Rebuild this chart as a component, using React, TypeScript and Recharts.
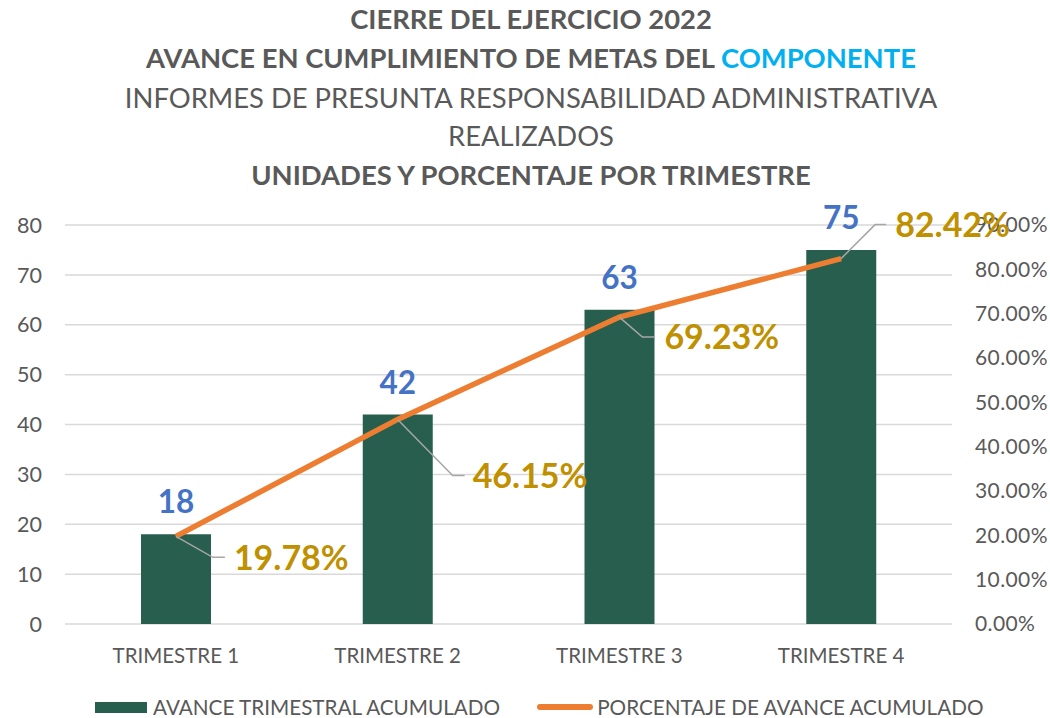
import React from "react";
import {
  ComposedChart,
  Bar,
  Line,
  XAxis,
  YAxis,
  CartesianGrid,
  LabelList,
} from "recharts";

const trimestres = ["TRIMESTRE 1", "TRIMESTRE 2", "TRIMESTRE 3", "TRIMESTRE 4"];
const avanceTrimestral = [18, 42, 63, 75];
const porcentajeAvance = [19.78, 46.15, 69.23, 82.42];
const unidadesTicks = [0, 10, 20, 30, 40, 50, 60, 70, 80];
const porcentajeTicks = [0, 10, 20, 30, 40, 50, 60, 70, 80, 90];

const data = trimestres.map((t, i) => ({
  name: t,
  avance: avanceTrimestral[i],
  porcentaje: porcentajeAvance[i],
}));

// where each percent label sits relative to its point: elbow, line end, text start
const leaders = [
  { ex: 37, ey: 21, end: 49, tx: 58 },
  { ex: 55, ey: 56, end: 67, tx: 75 },
  { ex: 23, ey: 20, end: 35, tx: 45 },
  { ex: 34, ey: -34, end: 45, tx: 54 },
];

const FONT = "Lato, 'Open Sans', sans-serif";
const GRAY = "#595959";

const PercentLabel = (props: any) => {
  const { x, y, index, value } = props;
  const l = leaders[index];
  if (!l) return null;
  return (
    <g>
      <polyline
        points={`${x},${y} ${x + l.ex},${y + l.ey} ${x + l.end},${y + l.ey}`}
        fill="none"
        stroke="#A6A6A6"
        strokeWidth={1.5}
      />
      <text
        x={x + l.tx}
        y={y + l.ey}
        dy="0.36em"
        fill="#BF9000"
        fontFamily={FONT}
        fontWeight={700}
        fontSize={34}
      >
        {`${Number(value).toFixed(2)}%`}
      </text>
    </g>
  );
};

export default function App() {
  const titleLine = (top: number, text: React.ReactNode, bold: boolean) => (
    <div
      style={{
        position: "absolute",
        left: 0,
        top,
        width: 1062,
        textAlign: "center",
        fontFamily: FONT,
        fontWeight: bold ? 700 : 400,
        fontSize: 27.4,
        color: GRAY,
        lineHeight: "30px",
        whiteSpace: "nowrap",
      }}
    >
      {text}
    </div>
  );

  return (
    <div
      style={{
        position: "absolute",
        left: 0,
        top: 0,
        width: 1050,
        height: 718,
        background: "#fff",
        overflow: "hidden",
      }}
    >
      {titleLine(4, "CIERRE DEL EJERCICIO 2022", true)}
      {titleLine(
        43,
        <>
          AVANCE EN CUMPLIMIENTO DE METAS DEL{" "}
          <span style={{ color: "#00B0F0" }}>COMPONENTE</span>
        </>,
        true
      )}
      {titleLine(83, "INFORMES DE PRESUNTA RESPONSABILIDAD ADMINISTRATIVA", false)}
      {titleLine(121, "REALIZADOS", false)}
      {titleLine(160, "UNIDADES Y PORCENTAJE POR TRIMESTRE", true)}

      <div style={{ position: "absolute", left: 0, top: 0 }}>
        <ComposedChart
          width={1050}
          height={718}
          data={data}
          margin={{ top: 225, right: 0, left: 0, bottom: 54 }}
        >
          <CartesianGrid
            vertical={false}
            stroke="#D9D9D9"
            strokeWidth={1.5}
            yAxisId="left"
          />
          <XAxis
            dataKey="name"
            height={40}
            axisLine={false}
            tickLine={false}
            tickMargin={18}
            tick={{ fill: GRAY, fontSize: 20.5, fontFamily: FONT }}
          />
          <YAxis
            yAxisId="left"
            width={65}
            domain={[0, 80]}
            ticks={unidadesTicks}
            axisLine={false}
            tickLine={false}
            tickSize={0}
            tickMargin={23}
            tick={{ fill: GRAY, fontSize: 21.5, fontFamily: FONT }}
          />
          <YAxis
            yAxisId="right"
            orientation="right"
            width={98}
            domain={[0, 90]}
            ticks={porcentajeTicks}
            axisLine={false}
            tickLine={false}
            tickSize={0}
            tickMargin={23}
            tickFormatter={(v: number) => `${v.toFixed(2)}%`}
            tick={{
              fill: GRAY,
              fontSize: 21,
              fontFamily: FONT,
              letterSpacing: 0.4,
            }}
          />
          <Bar
            yAxisId="left"
            dataKey="avance"
            fill="#285E4D"
            barSize={70}
            isAnimationActive={false}
          >
            <LabelList
              dataKey="avance"
              position="top"
              offset={21}
              fill="#4472C4"
              fontSize={31.5}
              fontWeight={700}
              fontFamily={FONT}
            />
          </Bar>
          <Line
            yAxisId="right"
            dataKey="porcentaje"
            stroke="#ED7D31"
            strokeWidth={5.5}
            dot={false}
            activeDot={false}
            isAnimationActive={false}
          >
            <LabelList dataKey="porcentaje" content={PercentLabel} />
          </Line>
        </ComposedChart>
      </div>

      <div
        style={{
          position: "absolute",
          left: 95,
          top: 697,
          display: "flex",
          alignItems: "center",
          fontFamily: FONT,
          fontSize: 20.7,
          color: GRAY,
          whiteSpace: "nowrap",
          lineHeight: "20px",
          height: 20,
        }}
      >
        <span
          style={{
            display: "inline-block",
            width: 52,
            height: 11,
            background: "#285E4D",
            marginRight: 6,
          }}
        />
        <span>AVANCE TRIMESTRAL ACUMULADO</span>
        <span
          style={{
            display: "inline-block",
            width: 56,
            height: 6,
            borderRadius: 3,
            background: "#ED7D31",
            marginLeft: 37,
            marginRight: 4,
          }}
        />
        <span>PORCENTAJE DE AVANCE ACUMULADO</span>
      </div>
    </div>
  );
}
